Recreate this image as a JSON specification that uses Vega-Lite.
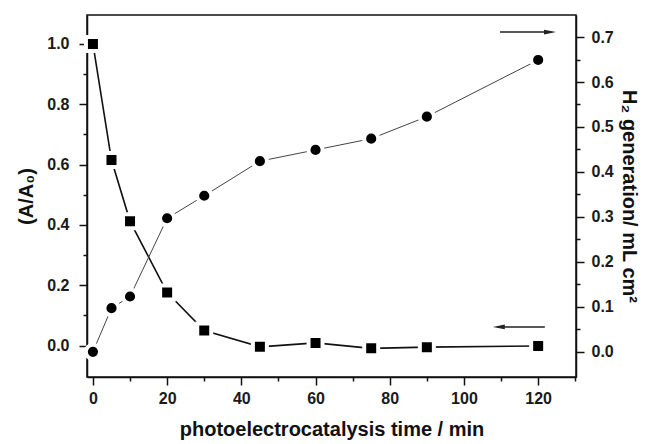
{
  "$schema": "https://vega.github.io/schema/vega-lite/v6.json",
  "width": 489,
  "height": 362,
  "autosize": {"type": "none"},
  "padding": {"left": 87, "top": 15, "right": 78, "bottom": 67},
  "background": "white",
  "config": {
    "view": {"stroke": "#111", "strokeWidth": 1.5},
    "font": "Liberation Sans",
    "axis": {
      "grid": false,
      "domainColor": "#111",
      "domainWidth": 1.5,
      "tickColor": "#111",
      "tickWidth": 1.5,
      "labelFont": "Liberation Sans",
      "labelFontWeight": "bold",
      "labelFontSize": 16,
      "labelColor": "#1a1a1a",
      "titleFont": "Liberation Sans",
      "titleFontWeight": "bold",
      "titleFontSize": 20,
      "titleColor": "#111",
      "zindex": 1
    }
  },
  "datasets": {
    "squares": [
      {"t": 0, "a": 1.0},
      {"t": 5, "a": 0.615},
      {"t": 10, "a": 0.412},
      {"t": 20, "a": 0.176},
      {"t": 30, "a": 0.05},
      {"t": 45, "a": -0.004},
      {"t": 60, "a": 0.009},
      {"t": 75, "a": -0.009},
      {"t": 90, "a": -0.005},
      {"t": 120, "a": -0.001}
    ],
    "circles": [
      {"t": 0, "h": 0.0},
      {"t": 5, "h": 0.097},
      {"t": 10, "h": 0.123},
      {"t": 20, "h": 0.297},
      {"t": 30, "h": 0.347},
      {"t": 45, "h": 0.424},
      {"t": 60, "h": 0.449},
      {"t": 75, "h": 0.474},
      {"t": 90, "h": 0.523},
      {"t": 120, "h": 0.649}
    ],
    "arrowL": [{"t": 109, "t2": 121.8, "a": 0.062, "head": 109.4}],
    "arrowR": [{"t": 109.7, "t2": 123.5, "h": 0.711, "head": 123.2}]
  },
  "resolve": {"scale": {"y": "independent"}, "axis": {"y": "independent"}},
  "layer": [
    {
      "resolve": {"axis": {"x": "independent", "y": "independent"}},
      "layer": [
        {
          "data": {"name": "squares"},
          "mark": {"type": "line", "color": "#111", "strokeWidth": 1.6},
          "encoding": {
            "x": {"field": "t", "type": "quantitative",
              "scale": {"domain": [-1.6, 130.2], "nice": false, "zero": false},
              "axis": {"orient": "bottom", "values": [0, 20, 40, 60, 80, 100, 120], "format": "d", "tickSize": 8, "labelPadding": 5, "title": "photoelectrocatalysis time / min", "titlePadding": 13}},
            "y": {"field": "a", "type": "quantitative",
              "scale": {"domain": [-0.104, 1.096], "nice": false, "zero": false},
              "axis": {"orient": "left", "values": [0, 0.2, 0.4, 0.6, 0.8, 1.0], "format": ".1f", "tickSize": 8, "labelPadding": 10, "title": "(A/A₀)", "titlePadding": 10}}
          }
        },
        {
          "data": {"name": "squares"},
          "mark": {"type": "point", "shape": "square", "filled": true, "fill": "#000", "stroke": "#fff", "strokeWidth": 4, "size": 196, "opacity": 1},
          "encoding": {
            "x": {"field": "t", "type": "quantitative", "scale": {"domain": [-1.6, 130.2], "nice": false, "zero": false}, "axis": null},
            "y": {"field": "a", "type": "quantitative", "scale": {"domain": [-0.104, 1.096], "nice": false, "zero": false}, "axis": null}
          }
        },
        {
          "data": {"name": "arrowL"},
          "mark": {"type": "rule", "color": "#222", "strokeWidth": 1.5},
          "encoding": {
            "x": {"field": "t", "type": "quantitative", "scale": {"domain": [-1.6, 130.2], "nice": false, "zero": false},
              "axis": {"orient": "bottom", "values": [10, 30, 50, 70, 90, 110, 130], "tickSize": 4, "labels": false, "domain": false, "title": null}},
            "x2": {"field": "t2"},
            "y": {"field": "a", "type": "quantitative", "scale": {"domain": [-0.104, 1.096], "nice": false, "zero": false},
              "axis": {"orient": "left", "values": [0.1, 0.3, 0.5, 0.7, 0.9], "tickSize": 4, "labels": false, "domain": false, "title": null}}
          }
        },
        {
          "data": {"name": "arrowL"},
          "mark": {"type": "point", "shape": "M 1 -0.4 L -1 0 L 1 0.4 Z", "filled": true, "color": "#222", "size": 144, "opacity": 1},
          "encoding": {
            "x": {"field": "head", "type": "quantitative", "scale": {"domain": [-1.6, 130.2], "nice": false, "zero": false}, "axis": null},
            "y": {"field": "a", "type": "quantitative", "scale": {"domain": [-0.104, 1.096], "nice": false, "zero": false}, "axis": null}
          }
        }
      ]
    },
    {
      "resolve": {"axis": {"y": "independent"}},
      "layer": [
        {
          "data": {"name": "circles"},
          "mark": {"type": "line", "color": "#444", "strokeWidth": 1},
          "encoding": {
            "x": {"field": "t", "type": "quantitative", "scale": {"domain": [-1.6, 130.2], "nice": false, "zero": false}, "axis": null},
            "y": {"field": "h", "type": "quantitative",
              "scale": {"domain": [-0.056, 0.749], "nice": false, "zero": false},
              "axis": {"orient": "right", "values": [0, 0.1, 0.2, 0.3, 0.4, 0.5, 0.6, 0.7], "format": ".1f", "tickSize": 8, "labelPadding": 7, "title": "H₂ generation/ mL cm²", "titlePadding": 5}}
          }
        },
        {
          "data": {"name": "circles"},
          "mark": {"type": "point", "shape": "circle", "filled": true, "fill": "#000", "stroke": "#fff", "strokeWidth": 4, "size": 201, "opacity": 1},
          "encoding": {
            "x": {"field": "t", "type": "quantitative", "scale": {"domain": [-1.6, 130.2], "nice": false, "zero": false}, "axis": null},
            "y": {"field": "h", "type": "quantitative", "scale": {"domain": [-0.056, 0.749], "nice": false, "zero": false}, "axis": null}
          }
        },
        {
          "data": {"name": "arrowR"},
          "mark": {"type": "rule", "color": "#222", "strokeWidth": 1.5},
          "encoding": {
            "x": {"field": "t", "type": "quantitative", "scale": {"domain": [-1.6, 130.2], "nice": false, "zero": false}, "axis": null},
            "x2": {"field": "t2"},
            "y": {"field": "h", "type": "quantitative", "scale": {"domain": [-0.056, 0.749], "nice": false, "zero": false},
              "axis": {"orient": "right", "values": [0.05, 0.15, 0.25, 0.35, 0.45, 0.55, 0.65], "tickSize": 4, "labels": false, "domain": false, "title": null}}
          }
        },
        {
          "data": {"name": "arrowR"},
          "mark": {"type": "point", "shape": "M -1 -0.4 L 1 0 L -1 0.4 Z", "filled": true, "color": "#222", "size": 144, "opacity": 1},
          "encoding": {
            "x": {"field": "head", "type": "quantitative", "scale": {"domain": [-1.6, 130.2], "nice": false, "zero": false}, "axis": null},
            "y": {"field": "h", "type": "quantitative", "scale": {"domain": [-0.056, 0.749], "nice": false, "zero": false}, "axis": null}
          }
        }
      ]
    }
  ]
}
